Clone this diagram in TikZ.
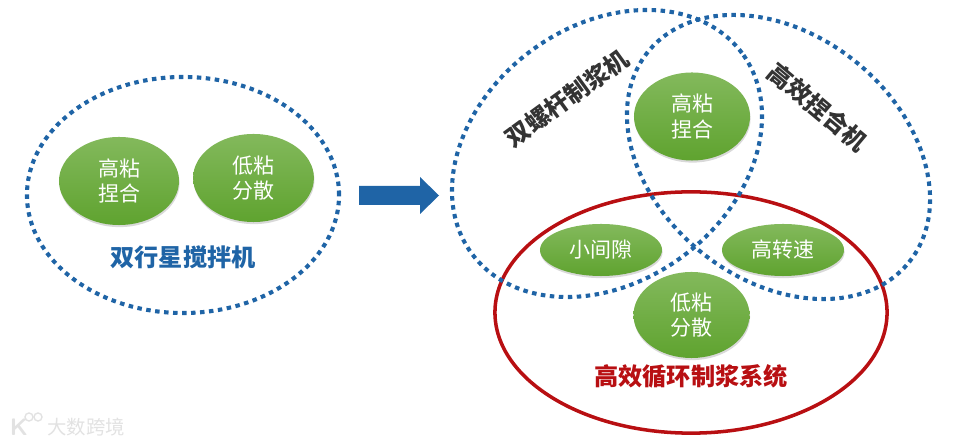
\documentclass[tikz,border=0pt]{standalone}
\usepackage{fontspec}
\usepackage{xcolor}
\usepackage{tikz}
\usetikzlibrary{shapes.geometric,shadings,shadows}
\newfontfamily\cjk{Noto Sans CJK SC}
\definecolor{dotblue}{HTML}{1F64A6}
\definecolor{ringred}{HTML}{B80F12}
\definecolor{leaftop}{HTML}{83B95C}
\definecolor{leafbot}{HTML}{5FA32F}
\definecolor{markgray}{HTML}{E2E2E2}
\tikzset{
    dotring/.style={ellipse, draw=dotblue, line width=2.9pt, dash pattern=on 3.2pt off 3.2pt, inner sep=0pt, outer sep=0pt},
    redring/.style={ellipse, draw=ringred, line width=2.5pt, inner sep=0pt, outer sep=0pt},
    leaf/.style={ellipse, top color=leaftop, bottom color=leafbot, draw=none, inner sep=0pt, outer sep=0pt, text=white, align=center,
        font=\cjk\fontsize{14.9}{17.8}\selectfont, drop shadow={opacity=0.3, shadow xshift=0.4pt, shadow yshift=-1.5pt}},
    biglabel/.style={font=\cjk\bfseries\fontsize{17.2}{20}\selectfont, inner sep=0pt},
}

\begin{document}
\begin{tikzpicture}[x=0.025cm, y=-0.025cm]
    \useasboundingbox (0,0) rectangle (953,444);

    % Left group
    \node[dotring, minimum width=7.8cm, minimum height=5.9cm] (mixer) at (183,195) {};
    \node[leaf, minimum width=3cm, minimum height=2.2cm] (highL) at (119,181) {高粘\\捏合};
    \node[leaf, minimum width=3.02cm, minimum height=2.2cm] (lowL) at (253.5,178) {低粘\\分散};
    \node[biglabel, text=dotblue] (mixerlabel) at (183,257) {双行星搅拌机};

    % Block arrow
    \fill[dotblue] (359,186) -- (420,186) -- (420,177) -- (439,195.5) -- (420,214) -- (420,205) -- (359,205) -- cycle;

    % Right group, the two dotted rings lean towards each other
    \node[redring, minimum width=9.8cm, minimum height=6.03cm] (system) at (691,312.5) {};
    \node[dotring, minimum width=8.41cm, minimum height=6.385cm, rotate=36.7] (twin) at (607,153.5) {};
    \node[dotring, minimum width=8.38cm, minimum height=6.13cm, rotate=-38.85] (kneader) at (778.5,157) {};

    \node[leaf, minimum width=2.9cm, minimum height=2.2cm] (highR) at (692,116.5) {高粘\\捏合};
    \node[leaf, minimum width=3.05cm, minimum height=1.3cm] (gap) at (601,250) {小间隙};
    \node[leaf, minimum width=3.05cm, minimum height=1.3cm] (speed) at (783,250) {高转速};
    \node[leaf, minimum width=2.9cm, minimum height=2.15cm] (lowR) at (691.5,315) {低粘\\分散};

    % Ring labels
    \node[biglabel, text=black!80, rotate=36] (twinlabel) at (567,98) {双螺杆制浆机};
    \node[biglabel, text=black!80, rotate=-40] (kneadlabel) at (818,107) {高效捏合机};
    \node[biglabel, text=ringred] (systemlabel) at (691,376) {高效循环制浆系统};

    % Watermark
    \node[font=\sffamily\bfseries\fontsize{17}{20}\selectfont, text=markgray, inner sep=0pt] (markK) at (19,427) {K};
    \node[circle, draw=markgray, line width=1pt, minimum size=0.2cm, inner sep=0pt] (markA) at (29,417) {};
    \node[circle, draw=markgray, line width=1pt, minimum size=0.2cm, inner sep=0pt] (markB) at (38,417) {};
    \node[font=\cjk\fontsize{13.8}{16}\selectfont, text=markgray, inner sep=0pt] (marktext) at (86,427) {大数跨境};
\end{tikzpicture}
\end{document}
